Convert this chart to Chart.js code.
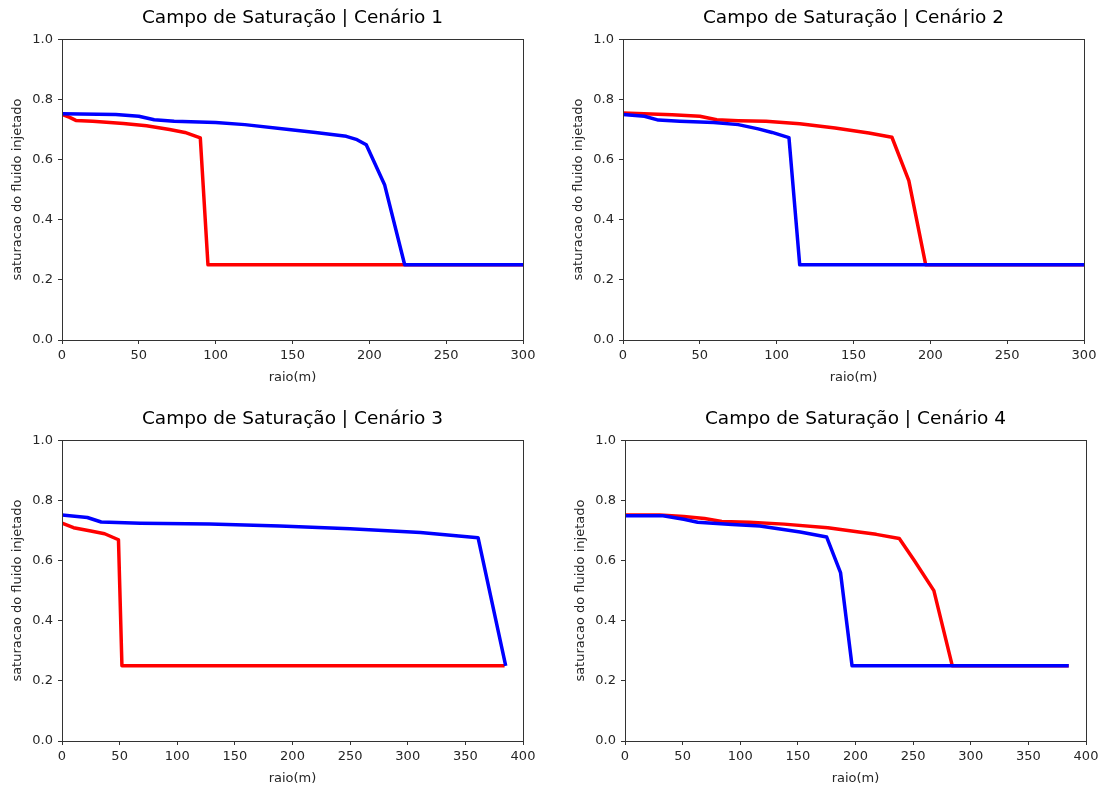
<!DOCTYPE html>
<html>
<head>
<meta charset="utf-8">
<script src="https://cdn.jsdelivr.net/npm/chart.js@4"></script>
<style>
  html, body { margin: 0; padding: 0; background: #fff; }
  body { width: 1100px; height: 785px; position: relative; overflow: hidden; }
  .plot { position: absolute; }
</style>
</head>
<body>
<div class="plot" style="left:0px;top:0px;"><canvas id="c1" width="585" height="386"></canvas></div>
<div class="plot" style="left:561px;top:0px;"><canvas id="c2" width="585" height="386"></canvas></div>
<div class="plot" style="left:0px;top:401px;"><canvas id="c3" width="585" height="386"></canvas></div>
<div class="plot" style="left:563px;top:401px;"><canvas id="c4" width="585" height="386"></canvas></div>
<script>
// Cenário 1
const c1BlueX = [0, 35, 50, 60, 73, 100, 119, 149, 165, 185, 192, 198, 210, 223, 300];
const c1BlueY = [0.752, 0.75, 0.744, 0.732, 0.727, 0.723, 0.716, 0.699, 0.69, 0.677, 0.666, 0.649, 0.515, 0.25, 0.25];
const c1RedX = [0, 5, 9, 20, 40, 55, 70, 80, 90, 95, 300];
const c1RedY = [0.75, 0.74, 0.73, 0.727, 0.72, 0.712, 0.70, 0.69, 0.672, 0.25, 0.25];

// Cenário 2
const c2BlueX = [0, 14, 23, 37, 59, 75, 88, 97, 108, 115, 300];
const c2BlueY = [0.75, 0.744, 0.731, 0.727, 0.723, 0.716, 0.702, 0.69, 0.673, 0.25, 0.25];
const c2RedX = [0, 32, 50, 61, 75, 93, 115, 138, 160, 175, 186, 197, 300];
const c2RedY = [0.755, 0.749, 0.744, 0.732, 0.729, 0.727, 0.719, 0.705, 0.688, 0.674, 0.53, 0.25, 0.25];

// Cenário 3
const c3BlueX = [0, 22, 34, 68, 128, 189, 250, 311, 361, 385];
const c3BlueY = [0.751, 0.743, 0.728, 0.724, 0.721, 0.715, 0.706, 0.693, 0.676, 0.25];
const c3RedX = [0, 10, 25, 37, 49, 52, 384];
const c3RedY = [0.724, 0.709, 0.698, 0.689, 0.669, 0.25, 0.25];

// Cenário 4
const c4BlueX = [0, 33, 51, 63, 93, 117, 152, 175, 187, 197, 385];
const c4BlueY = [0.749, 0.749, 0.737, 0.727, 0.72, 0.715, 0.695, 0.678, 0.56, 0.25, 0.25];
const c4RedX = [0, 30, 51, 69, 84, 108, 138, 176, 203, 218, 238, 251, 268, 284, 385];
const c4RedY = [0.751, 0.751, 0.746, 0.74, 0.73, 0.727, 0.721, 0.709, 0.695, 0.687, 0.673, 0.6, 0.5, 0.25, 0.25];

const titles = [
  'Campo de Saturação | Cenário 1',
  'Campo de Saturação | Cenário 2',
  'Campo de Saturação | Cenário 3',
  'Campo de Saturação | Cenário 4'
];
const xMaxes = [300, 300, 400, 400];
const yTicks = [0, 0.2, 0.4, 0.6, 0.8, 1.0];

const FONT = 'DejaVu Sans';
const TEXT = '#262626';

function toPoints(xs, ys) {
  return xs.map((x, i) => ({ x: x, y: ys[i] }));
}

// matplotlib style box round the axes
const framePlugin = {
  id: 'frame',
  afterDraw(chart) {
    const a = chart.chartArea;
    const ctx = chart.ctx;
    ctx.save();
    ctx.strokeStyle = '#333';
    ctx.lineWidth = 1;
    ctx.strokeRect(Math.round(a.left) + 0.5, Math.round(a.top) + 0.5,
      Math.round(a.right - a.left), Math.round(a.bottom - a.top));
    ctx.restore();
  }
};

function makeChart(id, title, xMax, blueX, blueY, redX, redY) {
  const ctx = document.getElementById(id).getContext('2d');
  return new Chart(ctx, {
    type: 'line',
    data: {
      datasets: [{
        data: toPoints(blueX, blueY),
        borderColor: '#0000ff',
        borderWidth: 3.5,
        pointRadius: 0,
        tension: 0,
        borderJoinStyle: 'round'
      }, {
        data: toPoints(redX, redY),
        borderColor: '#ff0000',
        borderWidth: 3.5,
        pointRadius: 0,
        tension: 0,
        borderJoinStyle: 'round'
      }]
    },
    options: {
      responsive: false,
      animation: false,
      events: [],
      layout: { padding: 0 },
      plugins: {
        legend: { display: false },
        tooltip: { enabled: false },
        title: {
          display: true,
          text: title,
          color: '#000',
          font: { family: FONT, size: 18.5, weight: 'normal' },
          padding: { top: 7, bottom: 10 }
        }
      },
      scales: {
        x: {
          type: 'linear',
          min: 0,
          max: xMax,
          afterFit: (s) => { s.height = 46; },
          grid: { drawOnChartArea: false, drawTicks: true, tickLength: 4, color: '#333' },
          border: { color: '#333' },
          ticks: {
            stepSize: 50,
            color: TEXT,
            padding: 4,
            maxRotation: 0,
            font: { family: FONT, size: 13 }
          },
          title: {
            display: true,
            text: 'raio(m)',
            color: TEXT,
            font: { family: FONT, size: 13 },
            padding: { top: 1, bottom: 1 }
          }
        },
        y: {
          type: 'linear',
          min: 0,
          max: 1,
          afterFit: (s) => { s.width = 62; },
          afterBuildTicks: (s) => { s.ticks = yTicks.map(v => ({ value: v })); },
          grid: { drawOnChartArea: false, drawTicks: true, tickLength: 4, color: '#333' },
          border: { color: '#333' },
          ticks: {
            color: TEXT,
            padding: 5,
            font: { family: FONT, size: 13 },
            callback: (v) => Number(v).toFixed(1)
          },
          title: {
            display: true,
            text: 'saturacao do fluido injetado',
            color: TEXT,
            font: { family: FONT, size: 13 },
            padding: { top: 10, bottom: 0 }
          }
        },
        // empty right axis, keeps the title centred over the plot
        yRight: {
          type: 'linear',
          position: 'right',
          min: 0,
          max: 1,
          afterFit: (s) => { s.width = 62; },
          grid: { display: false },
          border: { display: false },
          ticks: { display: false }
        }
      }
    },
    plugins: [framePlugin]
  });
}

makeChart('c1', titles[0], xMaxes[0], c1BlueX, c1BlueY, c1RedX, c1RedY);
makeChart('c2', titles[1], xMaxes[1], c2BlueX, c2BlueY, c2RedX, c2RedY);
makeChart('c3', titles[2], xMaxes[2], c3BlueX, c3BlueY, c3RedX, c3RedY);
makeChart('c4', titles[3], xMaxes[3], c4BlueX, c4BlueY, c4RedX, c4RedY);
</script>
</body>
</html>
